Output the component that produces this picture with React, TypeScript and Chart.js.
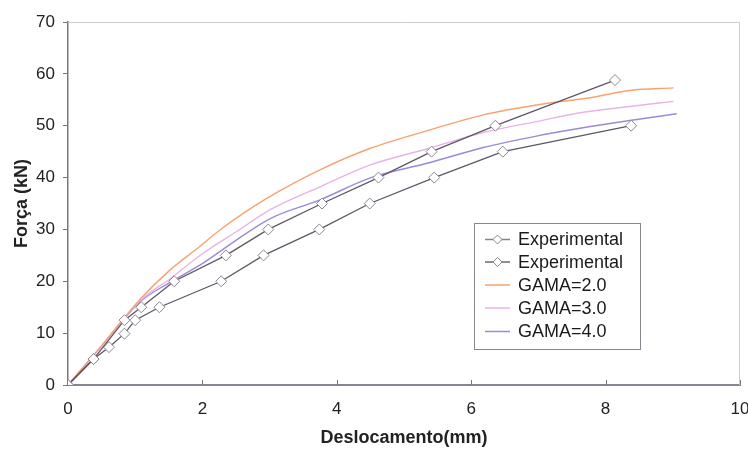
import { useEffect, useRef } from 'react';
import { Chart, registerables } from 'chart.js';

Chart.register(...registerables);

// Experimental series 1 (upper)
const expAx = [0, 0.38, 0.84, 1.09, 1.58, 2.35, 2.98, 3.78, 4.62, 5.41, 6.36, 8.14];
const expAy = [0, 5, 12.5, 15, 20, 25, 30, 35, 40, 45, 50, 58.8];
// Experimental series 2 (lower)
const expBx = [0, 0.38, 0.61, 0.84, 1.0, 1.36, 2.28, 2.91, 3.74, 4.49, 5.45, 6.47, 8.38];
const expBy = [0, 5, 7.3, 9.9, 12.5, 15, 20, 25, 30, 35, 40, 45, 50];
// GAMA=2.0
const g2x = [0, 0.5, 1.07, 1.52, 1.96, 2.26, 2.76, 3.13, 3.75, 4.49, 5.39, 6.18, 6.97, 7.77, 8.36, 9.01];
const g2y = [0, 7.6, 16.5, 22.2, 26.7, 29.9, 34.4, 37.3, 41.5, 45.6, 49.2, 52.1, 54.0, 55.4, 56.8, 57.3];
// GAMA=3.0
const g3x = [0, 0.5, 1.07, 1.52, 2.01, 2.51, 3.01, 3.75, 4.49, 5.39, 6.18, 6.97, 7.62, 8.36, 9.01];
const g3y = [0, 7.5, 16.2, 20.5, 25.4, 29.6, 33.8, 38.2, 42.4, 45.7, 48.7, 50.8, 52.5, 53.7, 54.7];
// GAMA=4.0
const g4x = [0, 0.5, 1.07, 1.52, 2.01, 2.51, 3.01, 3.75, 4.49, 5.39, 6.18, 6.97, 7.62, 8.36, 9.06];
const g4y = [0, 7.5, 16.0, 19.8, 23.5, 28.0, 32.1, 35.7, 39.9, 42.9, 45.8, 48.0, 49.5, 51.0, 52.3];

const seriesLabels = ['Experimental', 'Experimental', 'GAMA=2.0', 'GAMA=3.0', 'GAMA=4.0'];
const xTitle = 'Deslocamento(mm)';
const yTitle = 'Força (kN)';

const EXP_LINE = '#5f5666';
const EXP_MARK = '#8b8590';
const C_G2 = '#f6a36f';
const C_G3 = '#e9b3e4';
const C_G4 = '#9a8ad8';

const toPts = (xs: number[], ys: number[]) => xs.map((x, i) => ({ x, y: ys[i] }));

const decorPlugin = {
  id: 'decor',
  beforeDatasetsDraw(chart: any) {
    const { ctx, chartArea: a } = chart;
    ctx.save();
    ctx.strokeStyle = '#cfcbd3';
    ctx.lineWidth = 1;
    ctx.beginPath();
    ctx.moveTo(a.left, a.top + 0.5);
    ctx.lineTo(a.right - 0.5, a.top + 0.5);
    ctx.lineTo(a.right - 0.5, a.bottom);
    ctx.stroke();
    // inner x ticks
    const xs = chart.scales.x;
    ctx.strokeStyle = '#7d7488';
    ctx.lineWidth = 1;
    xs.ticks.forEach((t: any) => {
      const px = Math.round(xs.getPixelForValue(t.value)) + 0.5;
      ctx.beginPath();
      ctx.moveTo(px, a.bottom);
      ctx.lineTo(px, a.bottom - 5);
      ctx.stroke();
    });
    ctx.restore();
  },
  afterDraw(chart: any) {
    const { ctx, chartArea: a } = chart;
    ctx.save();
    // axis titles
    ctx.fillStyle = '#222222';
    ctx.font = 'bold 18px "Liberation Sans", Arial, sans-serif';
    ctx.textAlign = 'center';
    ctx.textBaseline = 'middle';
    ctx.fillText(xTitle, (a.left + a.right) / 2, 438);
    ctx.save();
    ctx.translate(22, (a.top + a.bottom) / 2);
    ctx.rotate(-Math.PI / 2);
    ctx.fillText(yTitle, 0, 0);
    ctx.restore();

    // legend box
    const L = 474, T = 223, R = 640, B = 349;
    ctx.fillStyle = '#ffffff';
    ctx.fillRect(L, T, R - L, B - T);
    ctx.strokeStyle = '#8a8690';
    ctx.lineWidth = 1;
    ctx.strokeRect(L + 0.5, T + 0.5, R - L, B - T);
    const rows = [239.5, 262, 285, 308, 331.5];
    const colors = ['#8a7f95', '#6f6677', C_G2, C_G3, C_G4];
    ctx.font = '18px "Liberation Sans", Arial, sans-serif';
    ctx.textAlign = 'left';
    ctx.textBaseline = 'middle';
    seriesLabels.forEach((lab, i) => {
      const y = rows[i];
      ctx.strokeStyle = colors[i];
      ctx.lineWidth = 1.5;
      ctx.beginPath();
      ctx.moveTo(485, y);
      ctx.lineTo(510, y);
      ctx.stroke();
      if (i < 2) {
        const cx = 497.5, r = 4.5;
        ctx.beginPath();
        ctx.moveTo(cx - r, y);
        ctx.lineTo(cx, y - r);
        ctx.lineTo(cx + r, y);
        ctx.lineTo(cx, y + r);
        ctx.closePath();
        ctx.fillStyle = '#ffffff';
        ctx.fill();
        ctx.strokeStyle = EXP_MARK;
        ctx.lineWidth = 1;
        ctx.stroke();
      }
      ctx.fillStyle = '#1a1a1a';
      ctx.fillText(lab, 518, y + 1);
    });
    ctx.restore();
  },
};

export default function App() {
  const ref = useRef<HTMLCanvasElement>(null);
  useEffect(() => {
    if (!ref.current) return;
    const expStyle = {
      borderColor: EXP_LINE,
      borderWidth: 1.3,
      pointStyle: 'rectRot' as const,
      pointRadius: 5.5,
      pointBackgroundColor: '#ffffff',
      pointBorderColor: EXP_MARK,
      pointBorderWidth: 1,
      tension: 0,
      showLine: true,
    };
    const gStyle = (c: string) => ({
      borderColor: c,
      backgroundColor: c,
      borderWidth: 1.4,
      pointRadius: 0,
      cubicInterpolationMode: 'monotone' as const,
      showLine: true,
    });
    const chart = new Chart(ref.current, {
      type: 'scatter',
      data: {
        datasets: [
          { label: seriesLabels[0], data: toPts(expAx, expAy), ...expStyle },
          { label: seriesLabels[1], data: toPts(expBx, expBy), ...expStyle },
          { label: seriesLabels[2], data: toPts(g2x, g2y), ...gStyle(C_G2) },
          { label: seriesLabels[3], data: toPts(g3x, g3y), ...gStyle(C_G3) },
          { label: seriesLabels[4], data: toPts(g4x, g4y), ...gStyle(C_G4) },
        ],
      },
      options: {
        animation: false,
        responsive: true,
        maintainAspectRatio: false,
        layout: { padding: { top: 22, right: 8, left: 0, bottom: 0 } },
        plugins: { legend: { display: false }, tooltip: { enabled: false } },
        scales: {
          x: {
            type: 'linear',
            min: 0,
            max: 10,
            ticks: {
              stepSize: 2,
              color: '#222222',
              padding: 14,
              maxRotation: 0,
              font: { family: '"Liberation Sans", Arial, sans-serif', size: 17 },
            },
            grid: { display: true, drawOnChartArea: false, drawTicks: false },
            border: { display: true, color: '#8c8496', width: 2 },
            afterFit: (s: any) => { s.height = 65; s.paddingRight = 0; s.paddingLeft = 0; },
          },
          y: {
            type: 'linear',
            min: 0,
            max: 70,
            ticks: {
              stepSize: 10,
              color: '#222222',
              padding: 8,
              font: { family: '"Liberation Sans", Arial, sans-serif', size: 17 },
            },
            grid: { display: true, drawOnChartArea: false, drawTicks: true, tickLength: 5, color: '#7d7488' },
            border: { display: true, color: '#7d7488', width: 1.5 },
            afterFit: (s: any) => { s.width = 68; s.paddingTop = 0; s.paddingBottom = 0; },
          },
        },
      },
      plugins: [decorPlugin],
    });
    return () => chart.destroy();
  }, []);
  return (
    <div style={{ position: 'absolute', left: 0, top: 0, width: 748, height: 450, background: '#ffffff' }}>
      <canvas ref={ref} />
    </div>
  );
}
